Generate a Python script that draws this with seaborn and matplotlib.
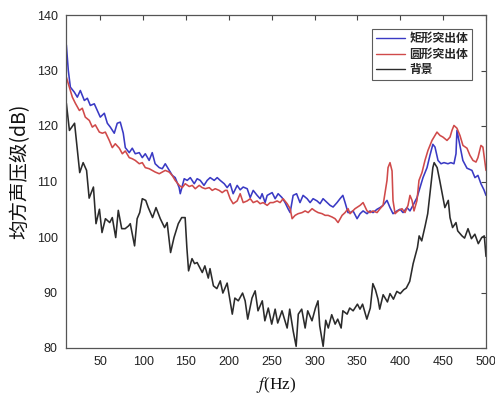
import numpy as np
import pandas as pd
import matplotlib
matplotlib.use("Agg")
import matplotlib.pyplot as plt
import seaborn as sns

# ---- data: frequency (Hz) and mean-square sound pressure level (dB) ----
rect_f = [10.4, 12.7, 15.1, 19.7, 23.2, 26.7, 31.4, 34.9, 38.4, 43.0, 46.5, 50.0,
          54.7, 58.2, 61.7, 66.3, 69.8, 73.3, 76.8, 79.2, 83.8, 87.3, 90.8, 95.5,
          99.0, 102.5, 107.0, 110.6, 114.0, 118.8, 122.3, 125.8, 130.4, 134.0,
          137.4, 142.0, 143.3, 147.9, 151.4, 155.0, 159.6, 163.0, 166.6, 171.0,
          174.7, 178.2, 182.9, 186.4, 189.9, 194.6, 198.0, 201.5, 205.0, 209.7,
          213.2, 216.7, 221.4, 224.9, 228.4, 233.0, 236.5, 238.8, 242.3, 244.7,
          250.5, 254.0, 257.5, 262.0, 265.6, 269.0, 271.5, 275.0, 279.0, 283.0,
          286.6, 291.3, 294.8, 298.3, 302.9, 306.4, 309.9, 314.6, 318.1, 321.6,
          326.2, 329.7, 333.0, 335.6, 339.0, 341.4, 344.9, 349.6, 353.1, 356.6,
          361.2, 364.7, 368.2, 372.9, 376.4, 379.9, 384.5, 388.0, 391.5, 396.2,
          399.7, 403.2, 407.8, 411.3, 414.8, 419.5, 423.0, 426.5, 431.2, 434.6,
          438.0, 440.5, 444.0, 447.5, 451.0, 455.6, 459.0, 462.6, 465.0, 466.1,
          469.6, 473.0, 477.8, 483.6, 487.1, 490.6, 494.1, 497.6, 500.0]
rect_db = [134.6, 130.0, 127.0, 126.1, 125.2, 126.4, 124.6, 125.0, 123.7, 124.0, 122.8, 121.6,
           122.3, 120.5, 119.8, 118.7, 120.5, 120.7, 118.7, 116.1, 115.2, 116.0, 115.0, 115.2,
           114.3, 115.0, 113.8, 115.2, 113.2, 112.5, 112.3, 113.2, 112.0, 111.1,
           110.7, 108.9, 107.8, 110.5, 110.2, 110.7, 109.6, 110.5, 110.2, 109.3,
           110.2, 110.7, 110.2, 110.7, 110.2, 109.6, 108.9, 109.6, 107.8, 109.3,
           108.5, 109.0, 108.7, 107.1, 108.4, 107.5, 106.9, 107.8, 106.2, 107.5,
           108.0, 106.9, 107.8, 107.1, 106.2, 105.1, 104.4, 107.5, 107.8, 106.2,
           107.5, 106.9, 106.2, 106.9, 106.5, 106.0, 106.9, 106.2, 105.7, 105.4,
           106.2, 106.9, 107.5, 106.2, 104.4, 104.4, 104.7, 103.3, 104.2, 104.7,
           104.2, 104.7, 104.4, 105.0, 105.3, 105.7, 106.6, 105.3, 104.2, 104.7,
           105.0, 104.4, 105.3, 104.7, 105.7, 107.1, 108.9, 110.7, 112.5, 114.7,
           116.7, 116.2, 113.8, 113.2, 113.4, 113.2, 113.4, 113.2, 115.0, 119.2,
           116.5, 113.8, 112.4, 112.0, 110.7, 111.1, 109.6, 108.5, 107.5]

round_f = [10.4, 13.9, 17.4, 20.9, 25.6, 29.0, 32.5, 37.2, 40.7, 44.2, 48.9, 52.4,
           55.9, 60.5, 64.0, 67.5, 72.2, 75.7, 79.2, 83.8, 87.3, 90.8, 95.5, 99.0,
           102.5, 107.1, 110.6, 114.1, 118.8, 122.3, 125.8, 130.4, 133.9, 137.4,
           142.1, 145.6, 149.1, 153.8, 157.3, 160.8, 165.4, 168.9, 172.4, 177.1,
           180.6, 184.1, 188.7, 192.2, 195.7, 198.0, 201.5, 205.0, 209.7, 213.2,
           216.7, 221.4, 224.9, 228.4, 233.0, 236.5, 240.0, 244.7, 248.2, 251.7,
           256.3, 259.8, 263.3, 268.0, 271.5, 273.8, 277.3, 280.8, 285.5, 289.0,
           292.5, 297.1, 300.6, 304.1, 308.8, 312.3, 315.8, 320.4, 323.9, 327.4,
           332.1, 335.6, 339.1, 341.4, 347.2, 353.1, 356.6, 361.2, 364.7, 368.2,
           372.9, 376.4, 379.9, 384.5, 385.7, 388.0, 390.4, 391.5, 393.9, 397.4,
           402.0, 405.5, 409.0, 411.3, 413.7, 416.0, 419.5, 421.8, 425.3, 428.8,
           432.3, 437.0, 442.8, 446.3, 449.8, 454.5, 458.0, 460.3, 462.6, 466.1,
           469.6, 473.1, 477.8, 481.3, 484.8, 488.3, 490.6, 494.1, 496.4, 500.0]
round_db = [128.8, 127.0, 125.2, 124.1, 122.8, 123.2, 121.6, 121.0, 119.8, 120.2, 118.9, 118.7,
            118.9, 117.4, 116.1, 116.8, 116.0, 115.0, 115.5, 114.3, 114.1, 113.8, 113.2, 113.4,
            112.5, 112.3, 112.0, 111.7, 111.4, 111.7, 112.0, 111.7, 111.1, 110.2,
            109.3, 108.9, 109.6, 109.1, 109.3, 108.7, 109.3, 108.9, 108.7, 108.9,
            108.4, 108.7, 108.4, 108.0, 108.4, 108.4, 106.9, 106.0, 106.5, 107.8,
            106.2, 106.5, 106.9, 106.2, 106.5, 106.0, 106.2, 105.7, 106.2, 106.2,
            106.5, 106.2, 106.9, 106.0, 105.1, 103.3, 103.9, 104.2, 104.4, 104.7,
            104.4, 105.1, 104.7, 104.4, 104.2, 103.9, 103.9, 103.6, 103.3, 102.6,
            103.9, 104.4, 105.1, 104.2, 105.1, 105.7, 106.2, 104.7, 104.4, 104.7,
            104.4, 105.1, 105.7, 110.2, 112.5, 113.4, 111.9, 106.6, 104.2, 104.7,
            105.1, 104.4, 105.7, 107.5, 106.6, 104.7, 106.6, 110.2, 111.6, 113.8,
            115.6, 117.4, 118.9, 118.3, 118.0, 117.4, 118.0, 119.2, 120.1, 119.6,
            118.3, 116.5, 116.0, 114.7, 113.8, 113.5, 114.3, 116.5, 116.2, 112.0]

bg_f = [10.4, 14.0, 20.0, 26.0, 30.0, 34.0, 37.0, 42.0, 45.0, 49.0, 52.0, 56.0,
        61.0, 64.0, 68.0, 71.0, 75.0, 79.0, 83.0, 85.0, 90.0, 93.0, 96.0, 99.0,
        103.0, 106.0, 111.0, 115.0, 120.0, 125.0, 128.0, 132.0, 136.0, 141.0,
        145.0, 149.0, 151.0, 153.0, 157.0, 160.0, 163.0, 169.0, 172.0, 176.0,
        178.0, 182.0, 186.0, 190.0, 193.0, 198.0, 204.0, 207.0, 211.0, 216.0,
        219.0, 222.0, 227.0, 230.7, 234.0, 239.0, 242.0, 246.0, 250.0, 254.0,
        257.0, 262.0, 268.0, 271.0, 275.0, 278.5, 281.0, 285.0, 289.0, 292.0,
        297.0, 301.0, 304.0, 306.0, 310.0, 313.0, 316.0, 320.0, 324.0, 327.0,
        331.0, 333.0, 338.0, 341.0, 345.0, 350.0, 353.0, 356.0, 361.0, 365.0,
        368.0, 371.0, 374.0, 376.0, 380.0, 385.0, 388.0, 392.0, 396.0, 400.0,
        404.0, 407.0, 411.0, 415.0, 420.0, 422.0, 425.0, 429.0, 432.0, 435.0,
        438.0, 439.5, 443.0, 446.0, 450.0, 452.0, 456.0, 458.0, 461.0, 465.0,
        467.0, 472.0, 475.0, 479.0, 483.0, 487.0, 491.0, 495.0, 498.0, 500.0]
bg_db = [124.1, 119.2, 120.5, 111.6, 113.4, 112.0, 107.0, 109.0, 102.4, 105.0, 100.8, 103.3,
         102.6, 103.5, 99.9, 104.8, 101.5, 101.5, 102.0, 102.4, 98.4, 103.3, 104.4, 106.9,
         106.6, 105.3, 103.5, 105.3, 103.3, 101.7, 102.6, 97.2, 99.9, 102.4,
         103.5, 103.5, 98.1, 93.9, 96.1, 95.2, 95.4, 93.6, 94.8, 92.6,
         94.3, 91.2, 90.7, 92.1, 89.9, 91.7, 86.1, 89.0, 88.5, 89.9,
         88.5, 85.2, 89.0, 90.3, 86.7, 88.5, 84.9, 87.2, 84.3, 87.0,
         84.5, 86.7, 83.6, 87.0, 83.1, 80.3, 86.1, 87.0, 83.6, 86.7,
         84.9, 87.2, 88.5, 84.0, 80.3, 85.0, 83.6, 86.0, 84.3, 85.2,
         83.6, 86.7, 86.1, 87.2, 86.7, 87.9, 87.0, 87.9, 85.2, 87.2,
         91.6, 90.5, 88.8, 87.0, 89.6, 88.3, 89.8, 88.8, 90.2, 89.8,
         90.5, 90.8, 92.0, 95.2, 98.1, 100.2, 99.3, 102.0, 104.2, 108.4,
         112.5, 113.4, 112.5, 110.2, 106.9, 105.3, 106.6, 103.5, 101.7, 102.6,
         101.1, 100.2, 99.8, 101.5, 99.7, 100.5, 98.8, 99.9, 100.2, 96.5]

series_names = ["矩形突出体", "圆形突出体", "背景"]
series_colors = ["#3a3ac4", "#d04a4a", "#2b2b2b"]

frames = []
for name, f, db in zip(series_names, [rect_f, round_f, bg_f], [rect_db, round_db, bg_db]):
    frames.append(pd.DataFrame({"f": f, "spl": db, "series": name}))
df = pd.concat(frames, ignore_index=True)

sns.set_style("white")
plt.rcParams["font.family"] = ["Liberation Sans", "DejaVu Sans"]
plt.rcParams["mathtext.fontset"] = "stix"

fig = plt.figure(figsize=(4.95, 3.99), dpi=100)
ax = fig.add_axes([66 / 495, 1 - 348 / 399, 420 / 495, 333 / 399])

sns.lineplot(data=df, x="f", y="spl", hue="series", hue_order=series_names,
             palette=dict(zip(series_names, series_colors)), sort=False,
             estimator=None, linewidth=1.15, ax=ax)

ax.set_xlim(10, 500)
ax.set_ylim(80, 140)
ax.set_xticks(np.arange(50, 501, 50))
ax.set_yticks(np.arange(80, 141, 10))
ax.tick_params(direction="in", length=3.5, width=0.8, colors="#444444",
               labelsize=9, top=True, right=True, labelcolor="#222222", pad=6)
for s in ax.spines.values():
    s.set_color("#555555")
    s.set_linewidth(0.9)

ax.set_xlabel(r"$\mathit{f}$(Hz)", fontsize=12.5, family=["Liberation Serif"],
              color="#111111", labelpad=5)
ax.set_ylabel("均方声压级(dB)", fontsize=14,
              family=["Noto Sans CJK SC", "DejaVu Sans"], color="#111111")
ax.yaxis.set_label_coords(-0.085, 0.53)

leg = ax.legend(loc="upper right", bbox_to_anchor=(0.972, 0.966), frameon=True,
                fancybox=False, edgecolor="#333333",
                prop={"family": ["Noto Sans CJK SC", "DejaVu Sans"], "size": 8.5, "weight": "bold"},
                handlelength=2.5, handletextpad=0.35, borderpad=0.3, labelspacing=0.22,
                borderaxespad=0.2)
leg.get_frame().set_linewidth(0.8)
for line in leg.get_lines():
    line.set_linewidth(1.0)

fig.savefig("out.png", dpi=100)
